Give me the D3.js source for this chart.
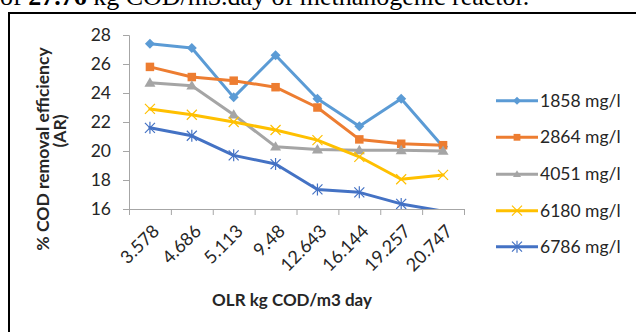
<!DOCTYPE html>
<html>
<head>
<meta charset="utf-8">
<script src="https://cdn.jsdelivr.net/npm/d3@7"></script>
<style>
  body { margin: 0; background: #fff; }
  svg { display: block; }
</style>
</head>
<body>
<svg id="chart" width="636" height="332"></svg>
<script>
// OLR categories (kg COD/m3 day) and COD removal efficiency (%) per influent strength
const categories = ["3.578", "4.686", "5.113", "9.48", "12.643", "16.144", "19.257", "20.747"];
const seriesNames = ["1858 mg/l", "2864 mg/l", "4051 mg/l", "6180 mg/l", "6786 mg/l"];
const s1858 = [27.4, 27.1, 23.7, 26.6, 23.6, 21.7, 23.6, 20.3];
const s2864 = [25.8, 25.1, 24.85, 24.4, 23.0, 20.8, 20.5, 20.4];
const s4051 = [24.7, 24.5, 22.5, 20.3, 20.1, 20.05, 20.05, 20.0];
const s6180 = [22.9, 22.5, 22.0, 21.45, 20.75, 19.6, 18.05, 18.35];
const s6786 = [21.6, 21.05, 19.7, 19.1, 17.35, 17.15, 16.35, 15.85];
const yTicks = [16, 18, 20, 22, 24, 26, 28];
const colors = ["#5B9BD5", "#ED7D31", "#A5A5A5", "#FFC000", "#4472C4"];
const markerKinds = ["diamond", "square", "triangle", "x", "star"];

const allSeries = [s1858, s2864, s4051, s6180, s6786].map((vals, i) => ({
  name: seriesNames[i], values: vals, color: colors[i], kind: markerKinds[i]
}));

const svg = d3.select("#chart");
const font = "Lato, 'Open Sans', sans-serif";
const textColor = "#262626";
const axisColor = "#A6A6A6";

// caption fragment above the frame (continues from the page above)
svg.append("text")
  .attr("x", 0).attr("y", 5)
  .attr("font-family", "'Liberation Serif', 'Times New Roman', serif")
  .attr("font-size", 26)
  .attr("fill", "#000")
  .call(t => {
    t.append("tspan").text("of ");
    t.append("tspan").attr("font-weight", "bold").text("27.76");
    t.append("tspan").text(" kg COD/m3.day of methanogenic reactor.");
  });

// chart frame
svg.append("path")
  .attr("d", "M9,340 L9,13 L640,13")
  .attr("fill", "none").attr("stroke", "#000").attr("stroke-width", 2);

const plot = { left: 129, right: 464, top: 35, bottom: 209 };

const x = d3.scaleBand().domain(categories).range([plot.left, plot.right]).paddingInner(0).paddingOuter(0);
const xEdge = d3.scaleLinear().domain([0, categories.length]).range([plot.left, plot.right]);
const y = d3.scaleLinear().domain([16, 28]).range([plot.bottom, plot.top]);
const cx = c => x(c) + x.bandwidth() / 2;

// y axis
const gy = svg.append("g").attr("transform", `translate(${plot.left},0)`)
  .call(d3.axisLeft(y).tickValues(yTicks).tickSize(6).tickPadding(12).tickFormat(d3.format("d")));
gy.select(".domain").attr("stroke", axisColor).attr("stroke-width", 1);
gy.selectAll(".tick line").attr("stroke", axisColor);
gy.selectAll(".tick text").attr("font-family", font).attr("font-size", 17.5).attr("fill", textColor);

// x axis: tick marks between categories
const gx = svg.append("g").attr("transform", `translate(0,${plot.bottom})`)
  .call(d3.axisBottom(xEdge).tickValues(d3.range(categories.length + 1)).tickSize(6).tickFormat(""));
gx.select(".domain").attr("stroke", axisColor).attr("stroke-width", 1);
gx.selectAll(".tick line").attr("stroke", axisColor);

// rotated category labels
svg.append("g").selectAll("text")
  .data(categories).join("text")
  .attr("transform", d => `translate(${cx(d) + 6},${plot.bottom + 19}) rotate(-45)`)
  .attr("text-anchor", "end")
  .attr("dy", "0.35em")
  .attr("font-family", font).attr("font-size", 18).attr("fill", textColor)
  .text(d => d);

// axis titles
svg.append("text")
  .attr("x", 292).attr("y", 306)
  .attr("text-anchor", "middle")
  .attr("font-family", font).attr("font-weight", "bold").attr("font-size", 17).attr("fill", textColor)
  .text("OLR kg COD/m3 day");

svg.append("text")
  .attr("transform", "translate(49,149) rotate(-90)")
  .attr("text-anchor", "middle")
  .attr("font-family", font).attr("font-weight", "bold").attr("font-size", 17.5).attr("fill", textColor)
  .text("% COD removal efficiency");
svg.append("text")
  .attr("transform", "translate(66,131) rotate(-90)")
  .attr("text-anchor", "middle")
  .attr("font-family", font).attr("font-weight", "bold").attr("font-size", 17.5).attr("fill", textColor)
  .text("(AR)");

// marker path builders
function markerPath(kind, r) {
  const p = d3.path();
  if (kind === "diamond") {
    p.moveTo(0, -r); p.lineTo(r, 0); p.lineTo(0, r); p.lineTo(-r, 0); p.closePath();
  } else if (kind === "square") {
    p.rect(-r * 0.85, -r * 0.85, r * 1.7, r * 1.7);
  } else if (kind === "triangle") {
    p.moveTo(0, -r); p.lineTo(r, r * 0.7); p.lineTo(-r, r * 0.7); p.closePath();
  } else if (kind === "x") {
    p.moveTo(-r, -r); p.lineTo(r, r); p.moveTo(r, -r); p.lineTo(-r, r);
  } else {
    p.moveTo(-r, -r); p.lineTo(r, r); p.moveTo(r, -r); p.lineTo(-r, r);
    p.moveTo(0, -r * 1.2); p.lineTo(0, r * 1.2);
  }
  return p.toString();
}
const isStroked = k => k === "x" || k === "star";

// clipped plot area
svg.append("clipPath").attr("id", "plotClip")
  .append("rect")
  .attr("x", plot.left).attr("y", plot.top - 10)
  .attr("width", plot.right - plot.left + 10).attr("height", plot.bottom - plot.top + 10);

const plotG = svg.append("g").attr("clip-path", "url(#plotClip)");
const line = d3.line().x((d, i) => cx(categories[i])).y(d => y(d));

allSeries.forEach(s => {
  plotG.append("path")
    .attr("d", line(s.values))
    .attr("fill", "none").attr("stroke", s.color)
    .attr("stroke-width", 3).attr("stroke-linejoin", "round").attr("stroke-linecap", "round");
});

allSeries.forEach(s => {
  const r = s.kind === "triangle" ? 5.5 : 5;
  plotG.append("g").selectAll("path")
    .data(s.values.map((v, i) => ({ v, c: categories[i] })).filter(d => d.v >= 16))
    .join("path")
    .attr("transform", d => `translate(${cx(d.c)},${y(d.v)})`)
    .attr("d", markerPath(s.kind, r))
    .attr("fill", isStroked(s.kind) ? "none" : s.color)
    .attr("stroke", s.color)
    .attr("stroke-width", isStroked(s.kind) ? 1.2 : 0);
});

// legend
const legend = svg.append("g");
const legendRows = [100.7, 137.3, 174.3, 210.7, 246.7];
allSeries.forEach((s, i) => {
  const g = legend.append("g").attr("transform", `translate(0,${legendRows[i]})`);
  g.append("line").attr("x1", 496).attr("x2", 538).attr("y1", 0).attr("y2", 0)
    .attr("stroke", s.color).attr("stroke-width", 3);
  g.append("path").attr("transform", "translate(517,0)")
    .attr("d", markerPath(s.kind, isStroked(s.kind) ? 5 : 4))
    .attr("fill", isStroked(s.kind) ? "none" : s.color)
    .attr("stroke", s.color).attr("stroke-width", isStroked(s.kind) ? 1.2 : 0);
  g.append("text").attr("x", 540).attr("y", 0).attr("dy", "0.35em")
    .attr("font-family", font).attr("font-size", 17.5).attr("fill", textColor)
    .text(s.name);
});
</script>
</body>
</html>
